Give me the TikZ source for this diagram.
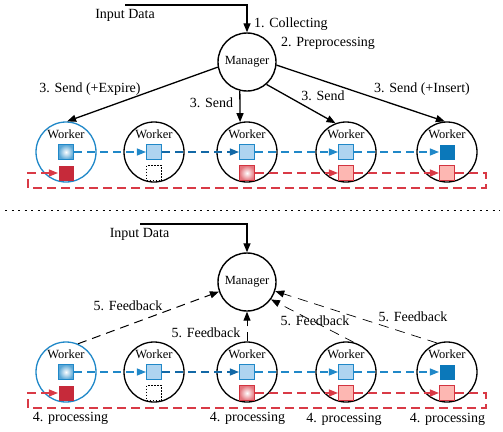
\documentclass[tikz,border=0pt]{standalone}
\usepackage{fontspec}
\setmainfont{Liberation Serif}
\usetikzlibrary{arrows.meta}
\definecolor{bline}{HTML}{2088C8}
\definecolor{bdark}{HTML}{1268A6}
\definecolor{bfill}{HTML}{AED4F0}
\definecolor{bsolid}{HTML}{0B78BA}
\definecolor{rline}{HTML}{D93A46}
\definecolor{rdark}{HTML}{C62A3A}
\definecolor{pfill}{HTML}{FDB7B2}
\definecolor{pbord}{HTML}{D23440}
\begin{document}
\begin{tikzpicture}[x=1pt,y=-1pt,
  lbl/.style={font=\fontsize{14}{16}\selectfont, inner sep=0pt},
  nm/.style={font=\fontsize{12.5}{14}\selectfont, inner sep=0pt},
  mgr/.style={circle, draw, line width=1.4pt, minimum size=58pt, inner sep=0pt, font=\fontsize{12.5}{14}\selectfont},
  wrk/.style={circle, draw, line width=1.3pt, minimum size=60pt, inner sep=0pt},
  sq/.style={minimum size=15pt, inner sep=0pt, line width=1.1pt},
  sqbg/.style={sq, draw=bline, inner color=white, outer color=bline!75},
  sqbl/.style={sq, draw=bline, fill=bfill},
  sqbs/.style={sq, fill=bsolid},
  sqrd/.style={sq, fill=rdark},
  sqrg/.style={sq, draw=pbord, inner color=white, outer color=rline!70},
  sqrp/.style={sq, draw=pbord, fill=pfill},
  sqdot/.style={sq, draw, line width=0.8pt, dash pattern=on 1.5pt off 1.5pt},
  tipk/.style={-{Triangle[length=9pt,width=7pt]}},
  blarrow/.style={line width=1.2pt, dash pattern=on 8pt off 5pt, -{Triangle[length=9pt,width=7pt]}},
  rdarrow/.style={rline, line width=1.1pt, dash pattern=on 9pt off 5pt, -{Triangle[length=9pt,width=7pt]}},
  fb/.style={line width=1pt, dash pattern=on 9pt off 6pt, -{Triangle[length=9pt,width=7pt]}},
  fbt/.style={line width=0.7pt, dash pattern=on 10pt off 7pt, -{Triangle[length=9pt,width=7pt]}}
]
\useasboundingbox (0,0) rectangle (503,431);

% ---------- worker rows ----------
\foreach \r/\y in {A/152,B/372}{
  \node[wrk, draw=bline] (w\r1) at (66,\y) {};
  \node[wrk] (w\r2) at (154,\y) {};
  \node[wrk] (w\r3) at (247,\y) {};
  \node[wrk] (w\r4) at (346,\y) {};
  \node[wrk] (w\r5) at (447,\y) {};
  \node[nm] (t\r1) at (66,\y-18) {Worker};
  \node[nm] (t\r2) at (154,\y-18) {Worker};
  \node[nm] (t\r3) at (247,\y-18) {Worker};
  \node[nm] (t\r4) at (346,\y-18) {Worker};
  \node[nm] (t\r5) at (447,\y-18) {Worker};
  \node[sqbg] (b\r1) at (66,\y) {};
  \node[sqbl] (b\r2) at (154,\y) {};
  \node[sqbl] (b\r3) at (247,\y) {};
  \node[sqbl] (b\r4) at (346,\y) {};
  \node[sqbs] (b\r5) at (447,\y) {};
  \node[sqrd] (r\r1) at (66,\y+21) {};
  \node[sqdot] (r\r2) at (154,\y+21) {};
  \node[sqrg] (r\r3) at (247,\y+21) {};
  \node[sqrp] (r\r4) at (346,\y+21) {};
  \node[sqrp] (r\r5) at (447,\y+21) {};
  \draw[blarrow, bline] (b\r1.east) -- (b\r2.west);
  \draw[blarrow, bdark] (b\r2.east) -- (b\r3.west);
  \draw[blarrow, bline] (b\r3.east) -- (b\r4.west);
  \draw[blarrow, bline] (b\r4.east) -- (b\r5.west);
  \coordinate (c\r1) at (486,\y+21);
  \coordinate (c\r2) at (486,\y+36);
  \coordinate (c\r3) at (28,\y+36);
  \coordinate (c\r4) at (28,\y+21);
  \draw[rdarrow] (r\r3.east) -- (r\r4.west);
  \draw[rdarrow] (r\r4.east) -- (r\r5.west);
  \draw[rdarrow] (r\r5.east) -- (c\r1) -- (c\r2) -- (c\r3) -- (c\r4) -- (r\r1.west);
}

% ---------- top part ----------
\node[mgr] (mA) at (247,62) {Manager};
\coordinate (inA) at (125,5);
\coordinate (inAc) at (247,5);
\draw[line width=1.3pt, tipk] (inA) -- (inAc) -- (mA.north);
\node[lbl] (inAl) at (125,15) {Input Data};
\node[lbl, anchor=west] (colA) at (254,24) {1. Collecting};
\node[lbl, anchor=west] (preA) at (281,43) {2. Preprocessing};
\draw[line width=1.3pt, tipk] (mA.190) -- (wA1.88);
\draw[line width=1.3pt, tipk] (mA.256) -- (wA3.103);
\draw[line width=1.3pt, tipk] (mA.311) -- (wA4.110);
\draw[line width=1.3pt, tipk] (mA.354) -- (wA5.94);
\node[lbl] (sA1) at (90,89) {3. Send (+Expire)};
\node[lbl] (sA3) at (211.5,103) {3. Send};
\node[lbl] (sA4) at (323,96) {3. Send};
\node[lbl] (sA5) at (422,89) {3. Send (+Insert)};

% ---------- separator ----------
\coordinate (sepL) at (5,210);
\coordinate (sepR) at (500,210);
\draw[line width=0.9pt, dash pattern=on 2pt off 4.5pt] (sepL) -- (sepR);

% ---------- bottom part ----------
\node[mgr] (mB) at (247,282) {Manager};
\coordinate (inB) at (140,224);
\coordinate (inBc) at (247,224);
\draw[line width=1.3pt, tipk] (inB) -- (inBc) -- (mB.north);
\node[lbl] (inBl) at (139.5,234) {Input Data};
\draw[fb] (wB1.67) -- (mB.199);
\draw[fb] (wB3.north) -- (mB.south);
\draw[fbt] (wB4.75) -- (mB.324);
\draw[fbt] (wB5.109) -- (mB.342);
\node[lbl] (fB1) at (128,306) {5. Feedback};
\node[lbl] (fB3) at (206,333) {5. Feedback};
\node[lbl] (fB4) at (315,321) {5. Feedback};
\node[lbl] (fB5) at (413,317) {5. Feedback};
\node[lbl] (pB1) at (70.5,418) {4. processing};
\node[lbl] (pB3) at (247.5,418) {4. processing};
\node[lbl] (pB4) at (344,419) {4. processing};
\node[lbl] (pB5) at (447.5,419) {4. processing};
\end{tikzpicture}
\end{document}
